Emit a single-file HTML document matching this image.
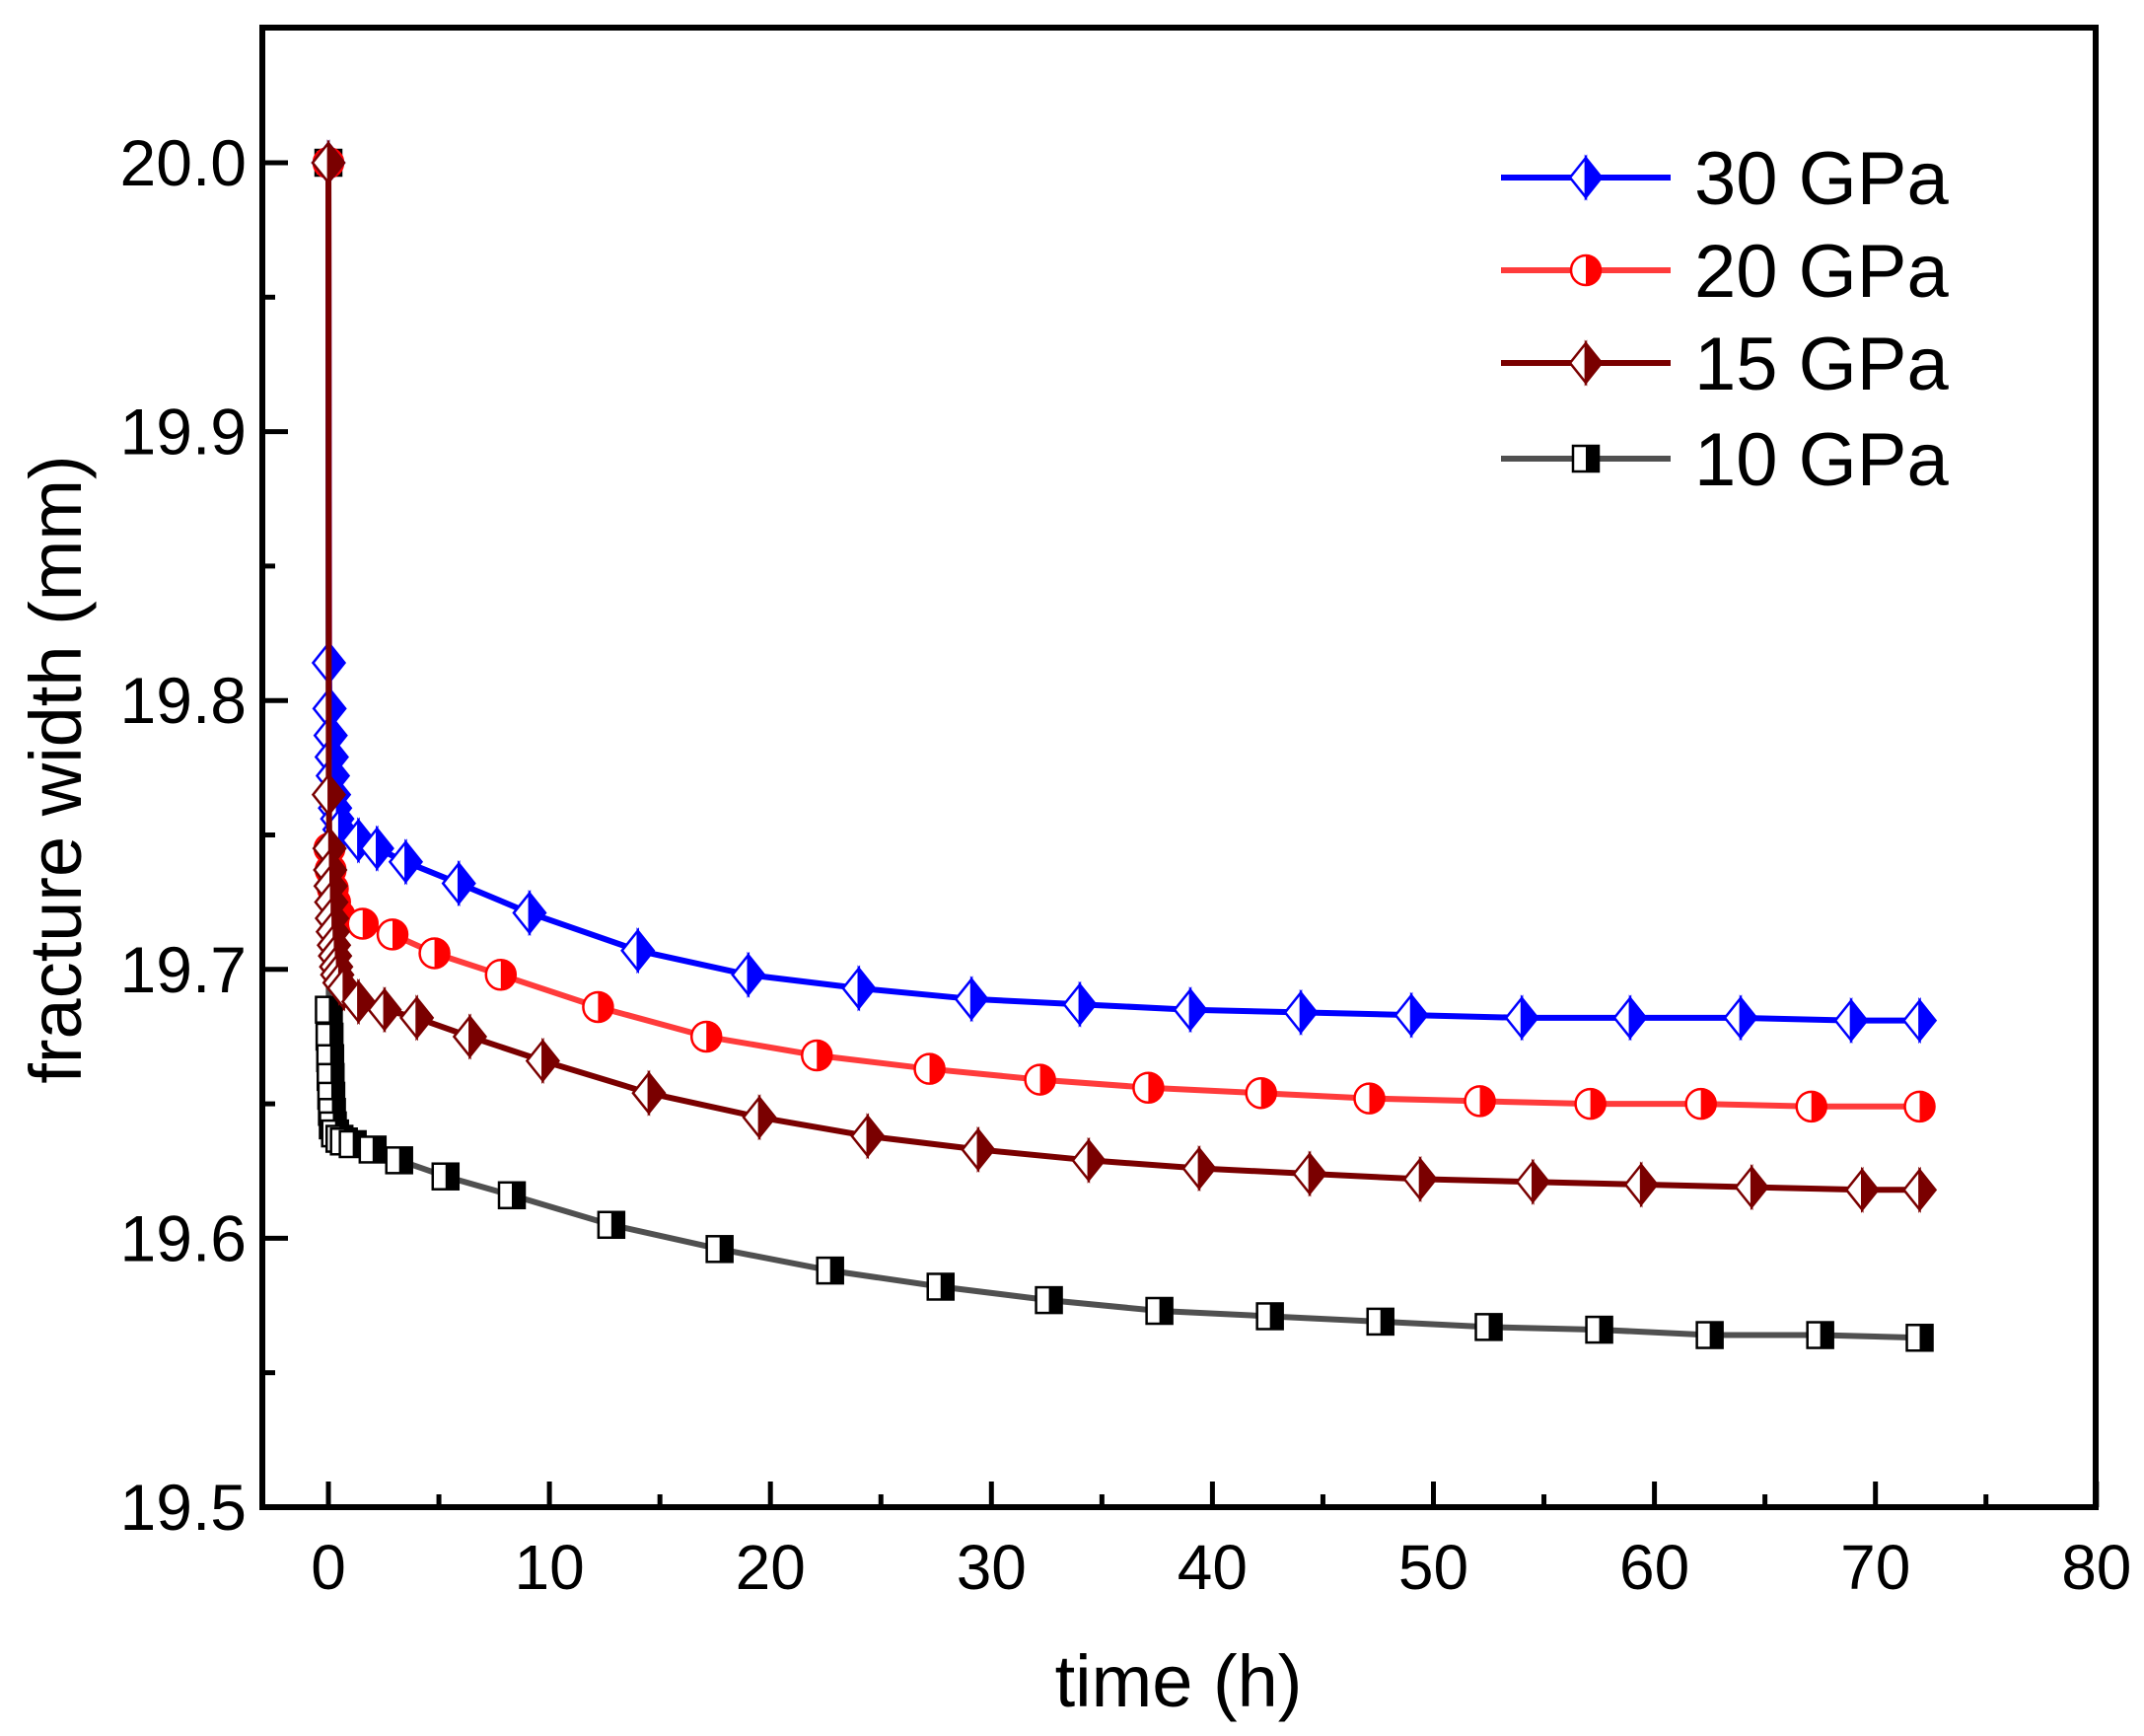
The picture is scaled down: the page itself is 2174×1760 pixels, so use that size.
<!DOCTYPE html>
<html><head><meta charset="utf-8"><style>
html,body{margin:0;padding:0;background:#fff}
svg{display:block}
text{font-family:"Liberation Sans",Arial,sans-serif;fill:#000}
</style></head><body>
<svg id="chart" width="2174" height="1760" viewBox="0 0 2174 1760" xmlns="http://www.w3.org/2000/svg"></svg>
<script>
const xTicks=[0,10,20,30,40,50,60,70,80];
const yTicks=[19.5,19.6,19.7,19.8,19.9,20.0];
const yTickLabels=["19.5","19.6","19.7","19.8","19.9","20.0"];
const seriesNames=["30 GPa","20 GPa","15 GPa","10 GPa"];
const t30=[0,0.02,0.05,0.1,0.15,0.2,0.25,0.3,0.4,0.5,1.36,2.2,3.5,5.9,9.1,14.0,19.0,24.0,29.1,34.0,39.0,44.0,49.0,54.0,58.9,63.9,68.9,72];
const v30=[20.0,19.814,19.797,19.787,19.779,19.772,19.765,19.76,19.756,19.752,19.748,19.745,19.740,19.732,19.721,19.707,19.698,19.693,19.689,19.687,19.685,19.684,19.683,19.682,19.682,19.682,19.681,19.681];
const t20=[0,0.05,0.1,0.2,0.3,0.5,1.55,2.9,4.8,7.8,12.2,17.1,22.1,27.2,32.2,37.1,42.2,47.1,52.1,57.1,62.1,67.1,72];
const v20=[20.0,19.745,19.737,19.730,19.725,19.720,19.717,19.713,19.706,19.698,19.686,19.675,19.668,19.663,19.659,19.656,19.654,19.652,19.651,19.650,19.650,19.649,19.649];
const t15=[0,0.02,0.05,0.08,0.1,0.13,0.16,0.2,0.25,0.3,0.35,0.4,0.5,0.7,1.36,2.54,4.0,6.4,9.7,14.5,19.5,24.4,29.4,34.4,39.4,44.4,49.4,54.5,59.4,64.4,69.4,72];
const v15=[20.0,19.765,19.745,19.737,19.731,19.725,19.719,19.714,19.709,19.705,19.701,19.698,19.695,19.693,19.688,19.685,19.682,19.675,19.666,19.654,19.645,19.638,19.633,19.629,19.626,19.624,19.622,19.621,19.620,19.619,19.618,19.618];
const t10=[0,0.02,0.05,0.08,0.1,0.13,0.16,0.2,0.3,0.5,0.7,1.1,2.0,3.2,5.3,8.3,12.8,17.7,22.7,27.7,32.6,37.6,42.6,47.6,52.5,57.5,62.5,67.5,72];
const v10=[20.0,19.685,19.675,19.667,19.66,19.653,19.647,19.642,19.639,19.637,19.636,19.635,19.633,19.629,19.623,19.616,19.605,19.596,19.588,19.582,19.577,19.573,19.571,19.569,19.567,19.566,19.564,19.564,19.563];

const NS="http://www.w3.org/2000/svg";
const svg=document.getElementById('chart');
const L=266,R=2125,T=28,B=1528;
function X(t){return 333+t*22.41;}
function Y(v){return 165+(20-v)*2726;}
function mk(tag,attrs,parent){const e=document.createElementNS(NS,tag);for(const k in attrs)e.setAttribute(k,attrs[k]);(parent||svg).appendChild(e);return e;}

const series=[
 {t:t30,v:v30,line:"#0000ff",mc:"#0000ff",shape:"diamond"},
 {t:t20,v:v20,line:"#ff3b3b",mc:"#ff0000",shape:"circle"},
 {t:t15,v:v15,line:"#7a0000",mc:"#7a0000",shape:"diamond"},
 {t:t10,v:v10,line:"#505050",mc:"#000000",shape:"square"}
];
function marker(g,shape,cx,cy,col){
  if(shape==="diamond"){
    const r=20;
    mk('path',{d:`M${cx},${cy-r}L${cx-r*0.8},${cy}L${cx},${cy+r}Z`,fill:'#fff',stroke:col,'stroke-width':2.5},g);
    mk('path',{d:`M${cx},${cy-r}L${cx+r*0.8},${cy}L${cx},${cy+r}Z`,fill:col,stroke:col,'stroke-width':2.5},g);
  }else if(shape==="circle"){
    const r=15;
    mk('circle',{cx:cx,cy:cy,r:r,fill:'#fff',stroke:col,'stroke-width':2.5},g);
    mk('path',{d:`M${cx},${cy-r}A${r},${r} 0 0 1 ${cx},${cy+r}Z`,fill:col},g);
  }else{
    const h=13;
    mk('rect',{x:cx-h,y:cy-h,width:2*h,height:2*h,fill:'#fff',stroke:col,'stroke-width':2.5},g);
    mk('rect',{x:cx,y:cy-h,width:h,height:2*h,fill:col},g);
  }
}
const order=[3,1,0,2];
order.forEach(i=>{
  const s=series[i];
  const g=mk('g',{});
  
  
  const pts=s.t.map((t,j)=>X(t).toFixed(1)+','+Y(s.v[j]).toFixed(1)).join(' ');
  const pl=mk('polyline',{points:pts,fill:'none',stroke:s.line,'stroke-width':6,'stroke-linejoin':'round'},g);
  
  
  s.t.forEach((t,j)=>marker(g,s.shape,X(t),Y(s.v[j]),s.mc));
});
const frame=mk('rect',{x:L,y:T,width:R-L,height:B-T,fill:'none',stroke:'#000','stroke-width':6});


const xg=mk('g',{});


xTicks.forEach((t,i)=>{
  mk('line',{x1:X(t),x2:X(t),y1:B,y2:B-26,stroke:'#000','stroke-width':5},xg);
  if(i<xTicks.length-1)mk('line',{x1:X(t+5),x2:X(t+5),y1:B,y2:B-13,stroke:'#000','stroke-width':5},xg);
  const tx=mk('text',{x:X(t),y:1611,'font-size':64,'text-anchor':'middle'},xg);tx.textContent=String(t);
});
const yg=mk('g',{});


yTicks.forEach((v,i)=>{
  mk('line',{x1:L,x2:L+26,y1:Y(v),y2:Y(v),stroke:'#000','stroke-width':5},yg);
  if(i<yTicks.length-1)mk('line',{x1:L,x2:L+13,y1:Y(v+0.05),y2:Y(v+0.05),stroke:'#000','stroke-width':5},yg);
  const tx=mk('text',{x:250,y:Y(v)+23,'font-size':66,'text-anchor':'end'},yg);tx.textContent=yTickLabels[i];
});
const xt=mk('text',{x:1195,y:1730,'font-size':74,'text-anchor':'middle'});
xt.textContent='time (h)';


const yt=mk('text',{x:0,y:0,'font-size':74,'text-anchor':'middle',transform:'translate(82,780) rotate(-90)'});
yt.textContent='fracture width (mm)';


const lg=mk('g',{});


const ly=[180,274,368,465];
series.forEach((s,i)=>{
  const e=mk('g',{},lg);
  
  
  mk('line',{x1:1522,x2:1694,y1:ly[i],y2:ly[i],stroke:s.line,'stroke-width':6},e);
  marker(e,s.shape,1608,ly[i],s.mc);
  const tx=mk('text',{x:1718,y:ly[i]+27,'font-size':76},e);tx.textContent=seriesNames[i];
});
</script>
</body></html>
